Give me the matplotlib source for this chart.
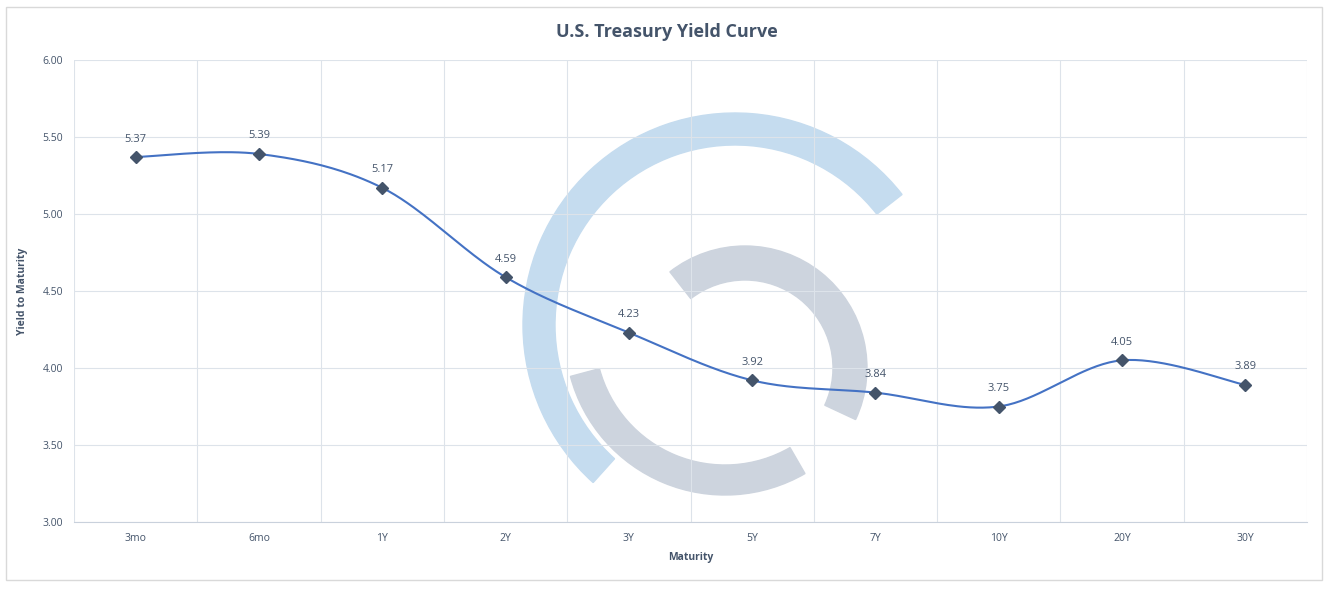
import matplotlib.pyplot as plt
import numpy as np
from matplotlib.patches import Wedge, Rectangle

maturities = ['3mo', '6mo', '1Y', '2Y', '3Y', '5Y', '7Y', '10Y', '20Y', '30Y']
yields = [5.37, 5.39, 5.17, 4.59, 4.23, 3.92, 3.84, 3.75, 4.05, 3.89]

plt.rcParams['font.family'] = ['Open Sans', 'DejaVu Sans']

W, H = 1333, 591
fig = plt.figure(figsize=(W / 100, H / 100), dpi=100)

# watermark layer in pixel coordinates (y up)
wm = fig.add_axes([0, 0, 1, 1], zorder=0)
wm.set_xlim(0, W)
wm.set_ylim(0, H)
wm.axis('off')
wm.add_patch(Wedge((735, H - 325), 212, 38, 228, width=32, color='#c5dcef'))
wm.add_patch(Wedge((745, H - 368), 122, -25, 128, width=34, color='#cdd4de'))
wm.add_patch(Wedge((725, H - 335), 160, 195, 300, width=30, color='#cdd4de'))

ax = fig.add_axes([74 / W, 1 - 522 / H, (1307 - 74) / W, (522 - 60) / H], zorder=1)
ax.patch.set_alpha(0)

# outer chart border
fig.patches.append(Rectangle((6 / W, 1 - 580 / H), 1316 / W, 573 / H,
                             transform=fig.transFigure, fill=False,
                             edgecolor='#d9d9d9', linewidth=1))

x = np.arange(len(maturities))

# smooth curve (Catmull-Rom, like Excel's smoothed line)
px = np.concatenate([[x[0]], x, [x[-1]]]).astype(float)
py = np.concatenate([[yields[0]], yields, [yields[-1]]])
sx, sy = [], []
t = np.linspace(0, 1, 40)
for i in range(1, len(px) - 2):
    for arr, out in ((px, sx), (py, sy)):
        p0, p1, p2, p3 = arr[i - 1], arr[i], arr[i + 1], arr[i + 2]
        out.extend(0.5 * ((2 * p1) + (-p0 + p2) * t + (2 * p0 - 5 * p1 + 4 * p2 - p3) * t ** 2
                          + (-p0 + 3 * p1 - 3 * p2 + p3) * t ** 3))

ax.plot(sx, sy, color='#4472c4', linewidth=1.5, zorder=3)
ax.plot(x, yields, linestyle='none', marker='D', markersize=6,
        color='#44546a', zorder=4)
for xi, yi in zip(x, yields):
    ax.annotate(f'{yi:.2f}', (xi, yi), xytext=(0, 9), textcoords='offset points',
                ha='center', va='bottom', fontsize=8, color='#44546a')

ax.set_xlim(-0.5, len(maturities) - 0.5)
ax.set_ylim(3.0, 6.0)
ax.set_yticks(np.arange(3.0, 6.01, 0.5))
ax.set_yticklabels([f'{v:.2f}' for v in np.arange(3.0, 6.01, 0.5)])
ax.set_xticks(x)
ax.set_xticklabels(maturities)
ax.set_xticks(np.arange(-0.5, len(maturities)), minor=True)
ax.grid(True, which='major', axis='y', color='#dde3ea', linewidth=0.8)
ax.grid(True, which='minor', axis='x', color='#dde3ea', linewidth=0.8)
ax.tick_params(which='both', length=0, labelsize=7.5, colors='#44546a', pad=8)
for s in ['top', 'right', 'left']:
    ax.spines[s].set_visible(False)
ax.spines['bottom'].set_color('#c9d1dc')

ax.set_xlabel('Maturity', fontsize=7.5, fontweight='bold', color='#44546a', labelpad=6)
ax.set_ylabel('Yield to Maturity', fontsize=7.5, fontweight='bold', color='#44546a', labelpad=10)
fig.text(0.5, 1 - 32 / H, 'U.S. Treasury Yield Curve', ha='center', va='center',
         fontsize=13, fontweight='bold', color='#44546a')

fig.savefig('out.png', dpi=100)
